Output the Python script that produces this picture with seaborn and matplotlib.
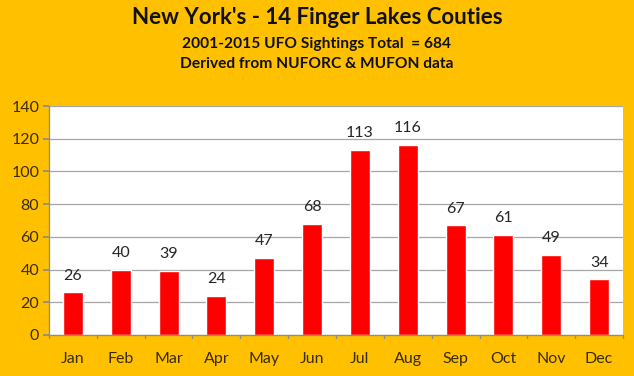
import matplotlib
matplotlib.use("Agg")
import matplotlib.pyplot as plt
import seaborn as sns
import pandas as pd

months = ["Jan", "Feb", "Mar", "Apr", "May", "Jun", "Jul", "Aug", "Sep", "Oct", "Nov", "Dec"]
sightings = [26, 40, 39, 24, 47, 68, 113, 116, 67, 61, 49, 34]
title = "New York's - 14 Finger Lakes Couties"
subtitle1 = "2001-2015 UFO Sightings Total  = 684"
subtitle2 = "Derived from NUFORC & MUFON data"

sns.set_theme(style="white")
plt.rcParams['font.family'] = ['Lato', 'DejaVu Sans']

df = pd.DataFrame({"month": months, "count": sightings})
bg = "#FFC000"
fig = plt.figure(figsize=(6.34, 3.76), dpi=100, facecolor=bg)
ax = fig.add_axes([49/634, 1-335/376, (623-49)/634, (335-106)/376])
ax.set_facecolor("white")
sns.barplot(data=df, x="month", y="count", color="#FF0000", width=0.42, ax=ax, saturation=1)
ax.set_ylim(0, 140)
ax.set_yticks(range(0, 141, 20))
ax.set_xlim(-0.5, 11.5)
ax.yaxis.grid(True, color="#A6A6A6", linewidth=0.9)
ax.set_axisbelow(True)
ax.set_xlabel("")
ax.set_ylabel("")
for s in ["top", "right"]:
    ax.spines[s].set_visible(False)
for s in ["left", "bottom"]:
    ax.spines[s].set_color("#8C8C8C")
    ax.spines[s].set_linewidth(0.9)
ax.set_xticks(range(12))
ax.set_xticklabels(months)
ax.tick_params(axis="x", length=0, pad=12, labelsize=11.5, labelcolor="#3A2C00")
ax.tick_params(axis="y", left=True, length=4, color="#8C8C8C", labelsize=11.5, labelcolor="#3A2C00", pad=3)
# category boundary tick marks
for b in range(13):
    ax.plot([b - 0.5, b - 0.5], [0, -1.8], color="#8C8C8C", lw=0.9, clip_on=False)
for i, v in enumerate(sightings):
    ax.text(i, v + 6, str(v), ha="center", va="bottom", fontsize=11.5, color="#262626")

fig.text(0.5, 1-17/376, title, ha="center", va="center", fontsize=16, fontweight="bold", color="#111111")
fig.text(0.5, 1-44/376, subtitle1, ha="center", va="center", fontsize=11.2, fontweight="bold", color="#111111")
fig.text(0.5, 1-64/376, subtitle2, ha="center", va="center", fontsize=11.2, fontweight="bold", color="#111111")
fig.savefig("out.png", dpi=100, facecolor=bg)
